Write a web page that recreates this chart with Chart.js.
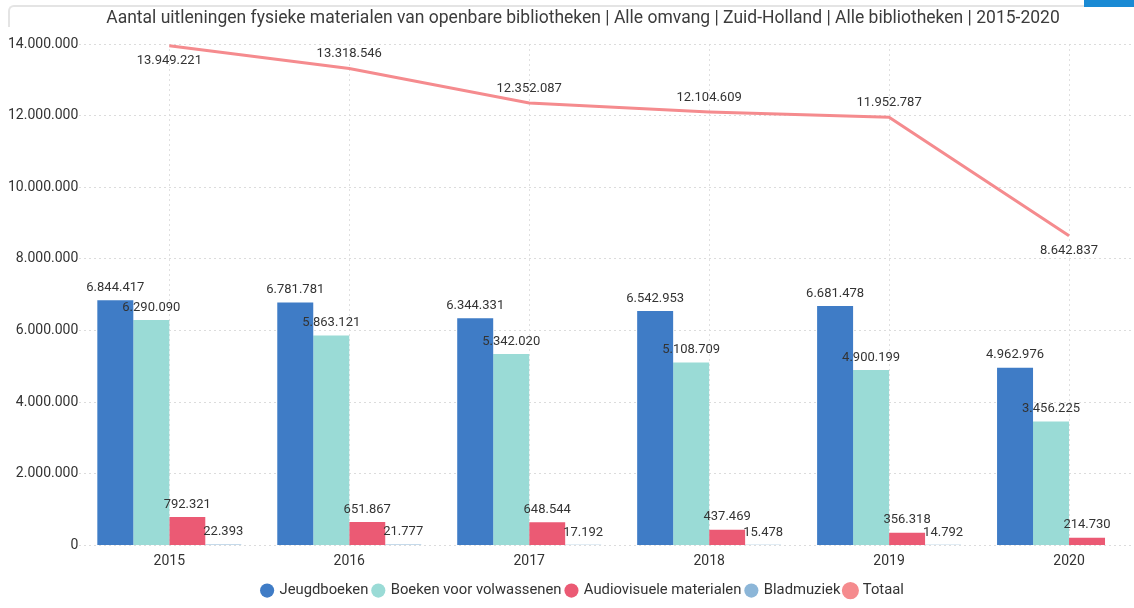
<!DOCTYPE html>
<html>
<head>
<meta charset="utf-8">
<script src="https://cdn.jsdelivr.net/npm/chart.js@4.4.0/dist/chart.umd.min.js"></script>
<style>
    html, body {margin: 0; padding: 0; background: #fff; overflow: hidden; width: 1134px; height: 608px;}
    #wrap {position: absolute; left: 0; top: 0; width: 1160px; height: 608px;}
    #frame {position: absolute; left: 8px; top: 5px; right: 0; height: 20px; border-top: 2px solid #e4e4e4; border-left: 2px solid #e4e4e4; border-top-left-radius: 6px;}
    #tab {position: absolute; right: 0; top: 0; width: 50px; height: 7px; background: #1a8ad4;}
</style>
</head>
<body>
<div id="frame"></div>
<div id="wrap"><canvas id="chart" width="1160" height="608"></canvas></div>
<div id="tab"></div>
<script>
const years = ["2015", "2016", "2017", "2018", "2019", "2020"];
const jeugdboeken = [6844417, 6781781, 6344331, 6542953, 6681478, 4962976];
const boekenVolwassenen = [6290090, 5863121, 5342020, 5108709, 4900199, 3456225];
const audiovisueel = [792321, 651867, 648544, 437469, 356318, 214730];
const bladmuziek = [22393, 21777, 17192, 15478, 14792, 8906];
const totaal = [13949221, 13318546, 12352087, 12104609, 11952787, 8642837];

const FONT = "Roboto, 'DejaVu Sans', sans-serif";

// thousands with dots, like the Dutch locale
function fmt(v) {
    return String(v).replace(/\B(?=(\d{3})+(?!\d))/g, ".");
}

// draws the value labels above bars and next to the line points
const valueLabels = {
    id: "valueLabels",
    afterDatasetsDraw(chart, args, opts) {
        const ctx = chart.ctx;
        ctx.save();
        ctx.font = "13px " + FONT;
        ctx.fillStyle = "#333";
        ctx.textAlign = "center";
        chart.data.datasets.forEach((ds, i) => {
            const meta = chart.getDatasetMeta(i);
            meta.data.forEach((el, j) => {
                const v = ds.data[j];
                if (v == null) return;
                const text = fmt(v);
                const w = ctx.measureText(text).width;
                if (el.x + w / 2 > opts.maxX) return;
                let y;
                if (ds.type === "line") {
                    const below = opts.lineBelow[j];
                    ctx.textBaseline = below ? "top" : "bottom";
                    y = below ? el.y + 8 : el.y - 8;
                } else {
                    ctx.textBaseline = "bottom";
                    y = el.y - 6;
                }
                ctx.fillText(text, el.x, y);
            });
        });
        ctx.restore();
    }
};

const ctx = document.getElementById("chart").getContext("2d");

new Chart(ctx, {
    data: {
        labels: years,
        datasets: [
            {type: "bar", label: "Jeugdboeken", data: jeugdboeken, backgroundColor: "#3f7cc6", order: 1},
            {type: "bar", label: "Boeken voor volwassenen", data: boekenVolwassenen, backgroundColor: "#9adbd6", order: 1},
            {type: "bar", label: "Audiovisuele materialen", data: audiovisueel, backgroundColor: "#eb5a74", order: 1},
            {type: "bar", label: "Bladmuziek", data: bladmuziek, backgroundColor: "#8cb6d8", order: 1},
            {type: "line", label: "Totaal", data: totaal, borderColor: "#f58b8e", backgroundColor: "#f58b8e",
                borderWidth: 3, pointRadius: 0, tension: 0, order: 0}
        ]
    },
    options: {
        responsive: false,
        animation: false,
        layout: {padding: {left: 7, right: 1, top: 6, bottom: 0}},
        datasets: {bar: {categoryPercentage: 0.8, barPercentage: 1.0}},
        scales: {
            x: {
                grid: {offset: false, color: "#e0e0e0", drawTicks: false},
                border: {display: false, dash: [2, 3]},
                ticks: {color: "#333", font: {family: FONT, size: 14}, padding: 8}
            },
            y: {
                min: 0, max: 14000000,
                grid: {color: "#dcdcdc", drawTicks: false},
                border: {display: false, dash: [2, 3]},
                ticks: {stepSize: 2000000, color: "#333", font: {family: FONT, size: 14}, padding: 1,
                    callback: v => fmt(v)}
            }
        },
        plugins: {
            title: {display: true,
                text: "Aantal uitleningen fysieke materialen van openbare bibliotheken | Alle omvang | Zuid-Holland | Alle bibliotheken | 2015-2020",
                color: "#3c3c3c", font: {family: FONT, size: 17.5, weight: "normal"}, padding: {top: 2, bottom: 15}},
            legend: {position: "bottom",
                labels: {usePointStyle: true, pointStyle: "circle", boxWidth: 10, boxHeight: 10,
                    padding: 5, color: "#333", font: {family: FONT, size: 14.8},
                    sort: (a, b) => a.datasetIndex - b.datasetIndex}},
            tooltip: {enabled: false},
            valueLabels: {maxX: 1134, lineBelow: [true, false, false, false, false, true]}
        }
    },
    plugins: [valueLabels]
});
</script>
</body>
</html>
